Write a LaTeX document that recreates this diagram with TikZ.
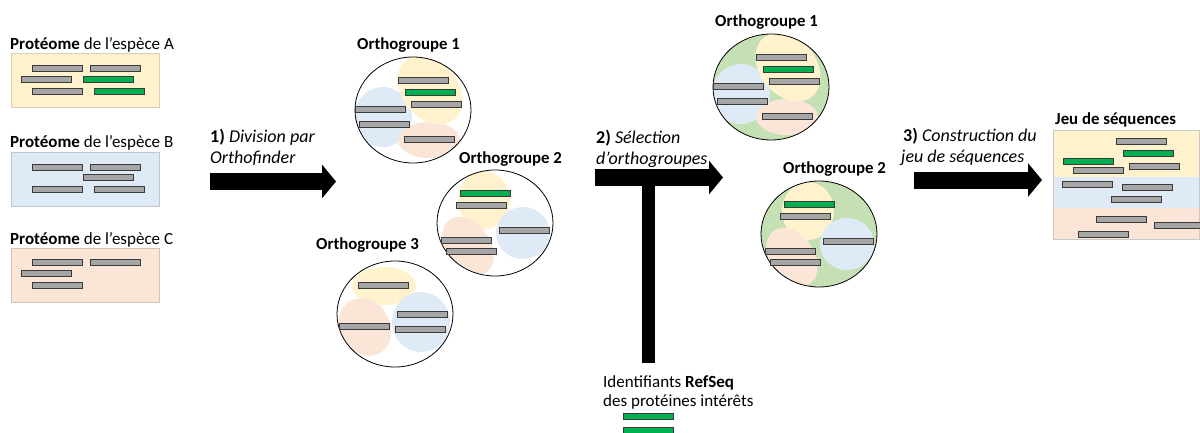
\documentclass[tikz,border=0pt]{standalone}
\usepackage{fontspec}
\setmainfont{Carlito}
\usetikzlibrary{arrows.meta,positioning,calc}
\definecolor{Jaune}{HTML}{FFF2CC}
\definecolor{Bleu}{HTML}{DEEBF7}
\definecolor{Rose}{HTML}{FBE5D6}
\definecolor{VertClair}{HTML}{C5E0B4}
\definecolor{Gris}{HTML}{A6A6A6}
\definecolor{Trait}{HTML}{3A3A3A}
\definecolor{Vert}{HTML}{00B050}
\definecolor{Bord}{HTML}{C9C9C9}
\tikzset{
  seq/.style={draw=Trait,fill=Gris,line width=.9pt},
  seqref/.style={seq,fill=Vert},
  txt/.style={font=\fontsize{17}{20}\selectfont,inner sep=0pt,anchor=base west},
  etape/.style={txt,font=\fontsize{18}{21}\selectfont},
  legende/.style={txt,font=\fontsize{17}{19}\selectfont},
  titre/.style={txt,font=\fontsize{16.8}{20}\selectfont\bfseries},
  boite/.style={line width=.6pt},
  groupe/.style={draw=black,line width=.8pt},
  fleche/.style={line width=17pt,-{Triangle[length=14pt,width=33pt]}},
  pied/.style={line width=13pt}
}
% une sequence de 50 de long, centree verticalement en #2
\newcommand{\seqg}[2]{\draw[seq] (#1,#2-3) rectangle ++(50,6);}
\newcommand{\seqv}[2]{\draw[seqref] (#1,#2-3) rectangle ++(50,6);}
% contenu des orthogroupes, relatif au centre
\newcommand{\fondOG}[1]{\begin{scope}\clip (0,0) ellipse (58 and 53);#1\end{scope}}
\newcommand{\orthoUn}{%
  \fondOG{\fill[Bleu] (-30,7) ellipse (29 and 30);
    \fill[Rose] (16,30) ellipse (31 and 18);
    \fill[Jaune,rotate around={-50:(17,-20)}] (17,-20) ellipse (38 and 28);}
  \draw[groupe] (0,0) ellipse (58 and 53);
  \seqg{-15}{-30} \seqv{-8}{-18} \seqg{-2}{-6}
  \seqg{-58}{-1} \seqg{-54}{14} \seqg{-9}{29}}
\newcommand{\orthoDeux}{%
  \fondOG{\fill[Jaune] (-11,-23) ellipse (26 and 29);
    \fill[Bleu] (28,10) ellipse (27 and 26);
    \fill[Rose,rotate around={-55:(-27,23)}] (-27,23) ellipse (32 and 22);}
  \draw[groupe] (0,0) ellipse (58 and 53);
  \seqv{-35}{-30} \seqg{-39}{-18} \seqg{4}{7}
  \seqg{-54}{17} \seqg{-49}{28}}

\begin{document}
\begin{tikzpicture}[x=1pt,y=-1pt]
  \useasboundingbox (0,0) rectangle (1200,432);

  % proteomes de depart
  \node[txt] (protA) at (10,49) {\textbf{Protéome} de l’espèce A};
  \draw[boite,fill=Jaune,draw=Jaune!85!black] (11,53) rectangle (159,107);
  \seqg{32}{68} \seqg{90}{68} \seqg{21}{79} \seqv{83}{79} \seqg{32}{91} \seqv{94}{91}
  \node[txt] (protB) at (10,147) {\textbf{Protéome} de l’espèce B};
  \draw[boite,fill=Bleu,draw=Bleu!85!black] (11,152) rectangle (159,206);
  \seqg{32}{167} \seqg{90}{167} \seqg{83}{177} \seqg{32}{189} \seqg{94}{189}
  \node[txt] (protC) at (10,244) {\textbf{Protéome} de l’espèce C};
  \draw[boite,fill=Rose,draw=Rose!85!black] (11,248) rectangle (159,302);
  \seqg{32}{262} \seqg{90}{262} \seqg{21}{273} \seqg{32}{285}

  % etape 1
  \node[etape] (etape1) at (210,142) {\textbf{1)} \textit{Division par}};
  \node[etape] (etape1b) at ([yshift=-21pt]etape1.base west) {\textit{Orthofinder}};
  \coordinate (d1) at (210,181.5);
  \coordinate (f1) at (336,181.5);
  \draw[fleche] (d1) -- (f1);

  % orthogroupes
  \node[titre] (og1) at (357,49) {Orthogroupe 1};
  \begin{scope}[shift={(413,110)}] \orthoUn \end{scope}
  \node[titre] (og2) at (459,163) {Orthogroupe 2};
  \begin{scope}[shift={(495,223)}] \orthoDeux \end{scope}
  \node[titre] (og3) at (316,249) {Orthogroupe 3};
  \begin{scope}[shift={(395,314)}]
    \fondOG{\fill[Jaune] (-11,-28) ellipse (32 and 19);
      \fill[Rose,rotate around={-60:(-30,13)}] (-30,13) ellipse (30 and 25);
      \fill[Bleu] (26,8) ellipse (29 and 30);}
    \draw[groupe] (0,0) ellipse (58 and 53);
    \seqg{-37}{-29} \seqg{2}{0} \seqg{0}{15} \seqg{-56}{12}
  \end{scope}

  % etape 2
  \node[etape] (etape2) at (596,143) {\textbf{2)} \textit{Sélection}};
  \node[etape] (etape2b) at ([yshift=-21pt]etape2.base west) {\textit{d’orthogroupes}};
  \coordinate (d2) at (595,177.5);
  \coordinate (f2) at (723,177.5);
  \draw[fleche] (d2) -- (f2);
  \node[legende] (refseq) at (603,387) {Identifiants \textbf{RefSeq}};
  \node[legende] (refseqb) at ([yshift=-19pt]refseq.base west) {des protéines intérêts};
  \coordinate (pied) at (648.5,363);
  \coordinate (jonction) at (648.5,184);
  \draw[pied] (pied) -- (jonction);
  \seqv{623}{416} \seqv{623}{430}

  % orthogroupes selectionnes
  \node[titre] (sel1) at (715,26) {Orthogroupe 1};
  \begin{scope}[shift={(771,87)}]
    \fill[VertClair] (0,0) ellipse (58 and 53);
    \orthoUn
  \end{scope}
  \node[titre] (sel2) at (783,173) {Orthogroupe 2};
  \begin{scope}[shift={(819,234)}]
    \fill[VertClair] (0,0) ellipse (58 and 53);
    \orthoDeux
  \end{scope}

  % etape 3
  \node[etape] (etape3) at (903,141) {\textbf{3)} \textit{Construction du}};
  \node[etape] (etape3b) at ([yshift=-21pt,xshift=-2pt]etape3.base west) {\textit{jeu de séquences}};
  \coordinate (d3) at (914,180);
  \coordinate (f3) at (1042,180);
  \draw[fleche] (d3) -- (f3);

  % jeu de sequences final
  \node[titre] (jeu) at (1055,124) {Jeu de séquences};
  \fill[Jaune] (1053,130) rectangle (1200,177);
  \fill[Bleu] (1053,177) rectangle (1200,208);
  \fill[Rose] (1053,208) rectangle (1200,239);
  \draw[boite,draw=Bord] (1053,130) rectangle (1199.5,239);
  \seqg{1116}{141} \seqv{1123}{153} \seqv{1063}{161} \seqg{1129}{166} \seqg{1073}{170}
  \seqg{1062}{184} \seqg{1122}{187} \seqg{1111}{199}
  \seqg{1096}{219} \seqg{1154}{225} \seqg{1078}{234}
\end{tikzpicture}
\end{document}
